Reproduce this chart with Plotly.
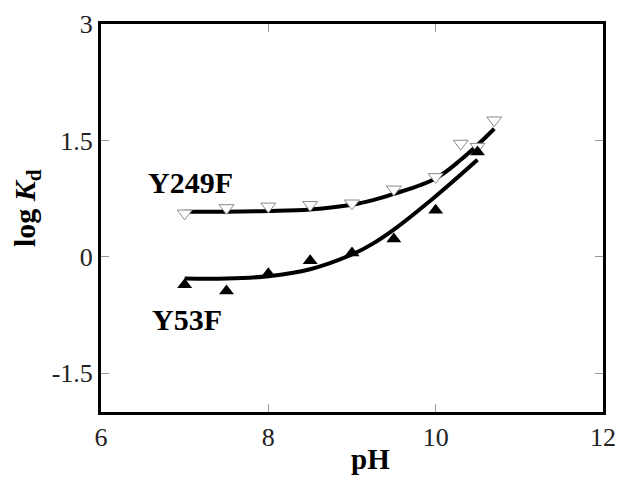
import plotly.graph_objects as go

# Measured data points
ph_y249f = [7.0, 7.5, 8.0, 8.5, 9.0, 9.5, 10.0, 10.3, 10.5, 10.7]
logkd_y249f = [0.56, 0.63, 0.65, 0.67, 0.69, 0.87, 1.03, 1.46, 1.42, 1.76]

ph_y53f = [7.0, 7.5, 8.0, 8.5, 9.0, 9.5, 10.0, 10.5]
logkd_y53f = [-0.36, -0.44, -0.22, -0.05, 0.05, 0.23, 0.60, 1.35]

# Fitted curves
fit_ph_y249f = [7.0, 7.5, 8.0, 8.5, 9.0, 9.25, 9.5, 10.0, 10.3, 10.5, 10.7]
fit_y249f = [0.58, 0.58, 0.59, 0.61, 0.67, 0.73, 0.81, 1.01, 1.25, 1.44, 1.65]

fit_ph_y53f = [7.0, 7.5, 8.0, 8.5, 9.0, 9.25, 9.5, 10.0, 10.5]
fit_y53f = [-0.28, -0.28, -0.25, -0.16, 0.03, 0.17, 0.35, 0.78, 1.25]

x_ticks = [6, 8, 10, 12]
y_ticks = [-1.5, 0, 1.5, 3]
y_ticklabels = ["-1.5", "0", "1.5", "3"]

FONT = "Liberation Serif"

fig = go.Figure()

fig.add_trace(go.Scatter(x=fit_ph_y249f, y=fit_y249f, mode="lines",
                         line=dict(color="black", width=4, shape="spline"),
                         showlegend=False, hoverinfo="skip"))
fig.add_trace(go.Scatter(x=fit_ph_y53f, y=fit_y53f, mode="lines",
                         line=dict(color="black", width=4, shape="spline"),
                         showlegend=False, hoverinfo="skip"))
fig.add_trace(go.Scatter(x=ph_y249f, y=logkd_y249f, mode="markers", name="Y249F",
                         marker=dict(symbol="triangle-down", size=13, color="white",
                                     line=dict(color="#8a8a8a", width=1)),
                         showlegend=False))
fig.add_trace(go.Scatter(x=ph_y53f, y=logkd_y53f, mode="markers", name="Y53F",
                         marker=dict(symbol="triangle-up", size=13, color="black",
                                     line=dict(color="black", width=0)),
                         showlegend=False))

W, H = 618, 477
ml, mr, mt, mb = 101, 15, 24, 65
pw, ph = W - ml - mr, H - mt - mb


def px2paper(px, py):
    return (px - ml) / pw, (H - mb - py) / ph


ann = []
x, y = px2paper(190, 182)
ann.append(dict(x=x, y=y, xref="paper", yref="paper", text="<b>Y249F</b>",
                showarrow=False, font=dict(family=FONT, size=30, color="black"),
                xanchor="center", yanchor="middle"))
x, y = px2paper(187, 319)
ann.append(dict(x=x, y=y, xref="paper", yref="paper", text="<b>Y53F</b>",
                showarrow=False, font=dict(family=FONT, size=30, color="black"),
                xanchor="center", yanchor="middle"))
x, y = px2paper(27, 208)
ann.append(dict(x=x, y=y, xref="paper", yref="paper",
                text="<b>log <i>K</i><sub>d</sub></b>", textangle=-90,
                showarrow=False, font=dict(family=FONT, size=30, color="black"),
                xanchor="center", yanchor="middle"))
x, y = px2paper(370, 459)
ann.append(dict(x=x, y=y, xref="paper", yref="paper", text="<b>pH</b>",
                showarrow=False, font=dict(family=FONT, size=29, color="black"),
                xanchor="center", yanchor="middle"))

fig.update_layout(
    width=W, height=H,
    margin=dict(l=ml, r=mr, t=mt, b=mb, autoexpand=False),
    paper_bgcolor="white", plot_bgcolor="white",
    font=dict(family=FONT, size=26, color="black"),
    annotations=ann,
    xaxis=dict(range=[6, 12], tickvals=x_ticks, ticks="inside", ticklen=8,
               tickcolor="#999999", tickwidth=1, showline=True, linecolor="black",
               linewidth=3, mirror="ticks", showgrid=False, zeroline=False,
               automargin=False,
               tickfont=dict(family=FONT, size=26, color="#222222")),
    yaxis=dict(range=[-2, 3], tickvals=y_ticks, ticktext=y_ticklabels,
               ticks="inside", ticklen=8, tickcolor="#999999", tickwidth=1,
               showline=True, linecolor="black", linewidth=3, mirror="ticks",
               showgrid=False, zeroline=False, automargin=False,
               tickfont=dict(family=FONT, size=26, color="#222222")),
)

fig.write_html("out.html", config={"displayModeBar": False},
               post_script="document.body.style.margin='0';document.body.style.padding='0';")
